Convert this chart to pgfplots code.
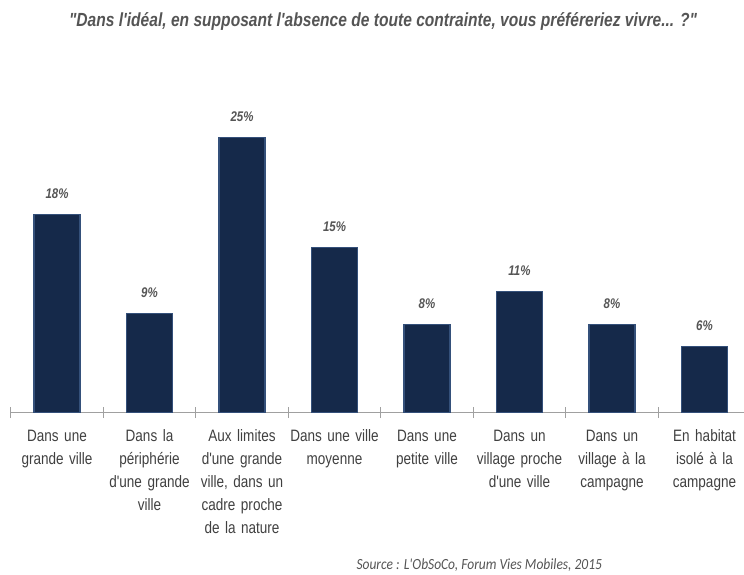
\documentclass[border=0pt]{standalone}
\usepackage{fontspec}
\setmainfont{Liberation Sans}
\newfontfamily\narrow[FakeStretch=0.82]{Liberation Sans}
\newfontfamily\srcfont[FakeStretch=0.87]{Carlito}
\usepackage{pgfplots}
\pgfplotsset{compat=1.18}
\definecolor{barblue}{HTML}{15294A}
\definecolor{baredge}{HTML}{34507A}
\definecolor{axisgray}{HTML}{A0A0A0}
\definecolor{labgray}{HTML}{404040}
\definecolor{valgray}{HTML}{555555}
\begin{document}
\begin{tikzpicture}
\useasboundingbox (0,0) rectangle (744pt,574pt);
\node[font=\narrow\bfseries\itshape\fontsize{19}{22}\selectfont, text=valgray] at (383pt,552pt)
  {"Dans l'idéal, en supposant l'absence de toute contrainte, vous préféreriez vivre... ?"};
\begin{axis}[
  at={(10.75pt,161.3pt)}, anchor=south west,
  scale only axis, width=740pt, height=275pt,
  xmin=-0.5, xmax=7.5, ymin=0, ymax=25,
  axis y line=none, axis x line*=bottom,
  x axis line style={draw=axisgray, line width=1pt, -},
  ybar, bar width=46pt,
  xtick={0,1,2,3,4,5,6,7},
  major tick length=0pt,
  minor xtick={-0.5,0.5,1.5,2.5,3.5,4.5,5.5,6.5,7.5},
  minor tick length=11pt, tick align=center,
  minor tick style={draw=axisgray, line width=0.8pt},
  /pgf/number format/assume math mode=true,
  xticklabels={
    {Dans une\\grande ville},
    {Dans la\\périphérie\\d'une grande\\ville},
    {Aux limites\\d'une grande\\ville, dans un\\cadre proche\\de la nature},
    {Dans une ville\\moyenne},
    {Dans une\\petite ville},
    {Dans un\\village proche\\d'une ville},
    {Dans un\\village à la\\campagne},
    {En habitat\\isolé à la\\campagne}},
  xticklabel style={font=\narrow\fontsize{16.5}{23}\selectfont, text=labgray,
    align=center, text width=92pt, anchor=north, inner sep=0pt, yshift=-17pt},
  nodes near coords={\pgfmathprintnumber[assume math mode=true]{\pgfplotspointmeta}\%},
  nodes near coords style={font=\narrow\bfseries\itshape\fontsize{14}{16}\selectfont,
    text=valgray, anchor=base, inner sep=0pt, yshift=16.7pt},
  clip=false,
]
\addplot[fill=barblue, draw=baredge, line width=1.5pt] coordinates {
  (0,18) (1,9) (2,25) (3,15) (4,8) (5,11) (6,8) (7,6)};
\end{axis}
\node[font=\srcfont\itshape\fontsize{15.5}{18}\selectfont, text=valgray, anchor=west] at (353pt,9pt)
  {Source : L'ObSoCo, Forum Vies Mobiles, 2015};
\end{tikzpicture}
\end{document}
